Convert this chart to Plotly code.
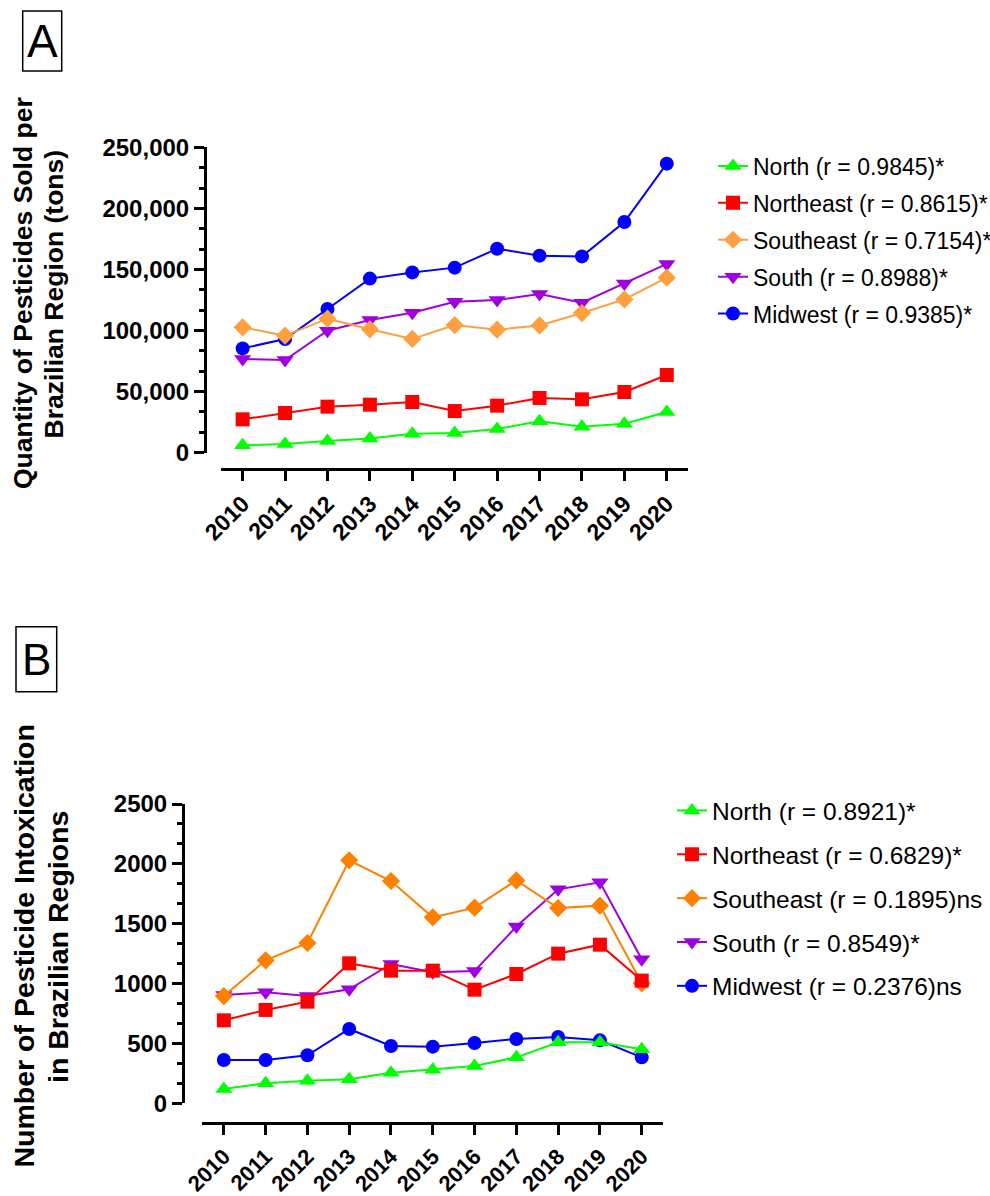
import plotly.graph_objects as go

# ---------------- data ----------------
years = [2010, 2011, 2012, 2013, 2014, 2015, 2016, 2017, 2018, 2019, 2020]
year_labels = [str(y) for y in years]

regions = ["North", "Northeast", "Southeast", "South", "Midwest"]

# Panel A: quantity of pesticides sold (tons)
north_sold = [6000, 7100, 9600, 11700, 15600, 16100, 19400, 25700, 21300, 23700, 33300]
northeast_sold = [27300, 32500, 37700, 39300, 41500, 34100, 38500, 44800, 43700, 49700, 63600]
southeast_sold = [102600, 95800, 109700, 101000, 93100, 104500, 100700, 104200, 114300, 125500, 143300]
south_sold = [76700, 75900, 99900, 108600, 114600, 123600, 125000, 129900, 122800, 138600, 154500]
midwest_sold = [85400, 93100, 117600, 142500, 147600, 151500, 167000, 161300, 160700, 188800, 236600]
labels_a = ["North (r = 0.9845)*", "Northeast (r = 0.8615)*", "Southeast (r = 0.7154)*",
            "South (r = 0.8988)*", "Midwest (r = 0.9385)*"]

# Panel B: number of pesticide intoxications
north_intox = [120, 167, 189, 200, 256, 281, 312, 384, 509, 509, 451]
northeast_intox = [693, 780, 849, 1169, 1108, 1108, 949, 1080, 1250, 1325, 1025]
southeast_intox = [896, 1194, 1339, 2030, 1857, 1553, 1634, 1862, 1631, 1651, 1002]
south_intox = [905, 927, 896, 952, 1164, 1094, 1105, 1476, 1787, 1846, 1203]
midwest_intox = [362, 362, 401, 621, 479, 473, 504, 537, 554, 526, 384]
labels_b = ["North (r = 0.8921)*", "Northeast (r = 0.6829)*", "Southeast (r = 0.1895)ns",
            "South (r = 0.8549)*", "Midwest (r = 0.2376)ns"]

title_a = ["Quantity of Pesticides Sold per", "Brazilian Region (tons)"]
title_b = ["Number of Pesticide Intoxication", "in Brazilian Regions"]

# ---------------- styles ----------------
W, H = 990, 1196
FONT = "Liberation Sans, Arial, sans-serif"
symbols = ["triangle-up", "square", "diamond", "triangle-down", "circle"]
msizes = [15, 14, 14, 15, 14]
colors_a = ["#00FF00", "#FF0000", "#FFA040", "#A000E0", "#0000FF"]
colors_b = ["#00FF00", "#FF0000", "#FF8000", "#A000E0", "#0000FF"]


def px(x):
    return x / W


def py(y):
    return 1 - y / H


fig = go.Figure()

data_a = [north_sold, northeast_sold, southeast_sold, south_sold, midwest_sold]
data_b = [north_intox, northeast_intox, southeast_intox, south_intox, midwest_intox]

# draw last series first so the first series sits in front (Prism style)
for i in reversed(range(5)):
    fig.add_trace(go.Scatter(
        x=years, y=data_a[i], name=labels_a[i], mode="lines+markers",
        line=dict(color=colors_a[i], width=2),
        marker=dict(symbol=symbols[i], size=msizes[i], color=colors_a[i]),
        xaxis="x", yaxis="y", legend="legend", legendgroup="a%d" % i,
        legendrank=i + 1, cliponaxis=False,
    ))
for i in reversed(range(5)):
    fig.add_trace(go.Scatter(
        x=years, y=data_b[i], name=labels_b[i], mode="lines+markers",
        line=dict(color=colors_b[i], width=2),
        marker=dict(symbol=symbols[i], size=msizes[i], color=colors_b[i]),
        xaxis="x2", yaxis="y2", legend="legend2", legendgroup="b%d" % i,
        legendrank=i + 1, cliponaxis=False,
    ))

axis_common = dict(showline=True, linecolor="black", linewidth=3, ticks="outside",
                   tickcolor="black", tickwidth=2.5, ticklen=10, showgrid=False,
                   zeroline=False, anchor="free", automargin=False)

a_major = 50000
b_major = 500

fig.update_layout(
    template="none",
    width=W, height=H,
    margin=dict(l=0, r=0, t=0, b=0, autoexpand=False),
    paper_bgcolor="white", plot_bgcolor="white",
    font=dict(family=FONT, color="black"),
    xaxis=dict(domain=[px(221), px(688)], range=[2009.49, 2020.5], position=py(469.3),
               tickvals=years, ticktext=year_labels, tickangle=-45,
               tickfont=dict(size=23, weight="bold", family=FONT), **axis_common),
    yaxis=dict(domain=[py(452.7), py(147.3)], range=[0, 250000], position=px(205),
               tick0=0, dtick=a_major, tickformat=",d",
               tickfont=dict(size=24, weight="bold", family=FONT),
               minor=dict(dtick=a_major / 3, ticks="outside", ticklen=5, tickwidth=2.5,
                          tickcolor="black", showgrid=False),
               **axis_common),
    xaxis2=dict(domain=[px(201.7), px(662.6)], range=[2009.47, 2020.5], position=py(1123),
                tickvals=years, ticktext=year_labels, tickangle=-45,
                tickfont=dict(size=22, weight="bold", family=FONT), **axis_common),
    yaxis2=dict(domain=[py(1103.3), py(804)], range=[0, 2500], position=px(183),
                tick0=0, dtick=b_major, tickformat="d",
                tickfont=dict(size=24, weight="bold", family=FONT),
                minor=dict(dtick=b_major / 3, ticks="outside", ticklen=5, tickwidth=2.5,
                           tickcolor="black", showgrid=False),
                **axis_common),
    legend=dict(x=px(713), y=py(144.5), xanchor="left", yanchor="top",
                font=dict(size=23, family=FONT, color="black"), tracegroupgap=4,
                bgcolor="rgba(0,0,0,0)", borderwidth=0),
    legend2=dict(x=px(672), y=py(788), xanchor="left", yanchor="top",
                 font=dict(size=24.5, family=FONT, color="black"), tracegroupgap=9,
                 bgcolor="rgba(0,0,0,0)", borderwidth=0),
    showlegend=True,
)

# panel letters with boxes
fig.add_shape(type="rect", xref="paper", yref="paper", x0=px(22.7), x1=px(61.7),
              y0=py(71), y1=py(11), line=dict(color="black", width=1.5))
fig.add_shape(type="rect", xref="paper", yref="paper", x0=px(16), x1=px(56.7),
              y0=py(691.7), y1=py(626.7), line=dict(color="black", width=1.5))
fig.add_annotation(text="A", x=px(42.2), y=py(41), xref="paper", yref="paper",
                   xanchor="center", yanchor="middle",
                   showarrow=False, font=dict(size=46, family=FONT, color="black"))
fig.add_annotation(text="B", x=px(36.3), y=py(659), xref="paper", yref="paper",
                   xanchor="center", yanchor="middle",
                   showarrow=False, font=dict(size=44, family=FONT, color="black"))

# y-axis titles (two rotated lines each)
for txt, xc, yc, fs in [(title_a[0], 22.5, 293.5, 26.5), (title_a[1], 53.5, 294, 26.5),
                        (title_b[0], 23.5, 946, 28.5), (title_b[1], 58, 947, 28.5)]:
    fig.add_annotation(text=txt, x=px(xc), y=py(yc), xref="paper", yref="paper",
                       showarrow=False, xanchor="center", yanchor="middle", textangle=-90,
                       font=dict(size=fs, weight="bold", family=FONT, color="black"))

fig.write_html("out.html", config={"displayModeBar": False},
               post_script="document.body.style.margin='0';")
